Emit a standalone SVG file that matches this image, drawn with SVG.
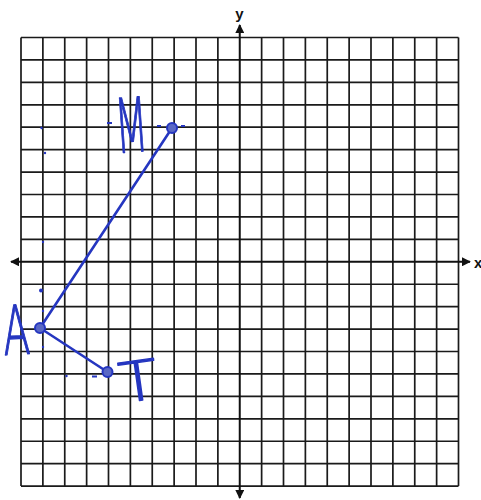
<svg xmlns="http://www.w3.org/2000/svg" width="481" height="500" viewBox="0 0 481 500">
<style>
.grid{fill:none;stroke:#1a1a1a;stroke-width:1.7}
.axis{fill:none;stroke:#111;stroke-width:2}
.lbl{font-family:"Liberation Sans","DejaVu Sans",sans-serif;font-weight:bold;font-size:15px;fill:#111}
.seg{fill:none;stroke:#2536c0;stroke-width:2.6;stroke-linecap:round}
.pt{fill:#5a68c4;stroke:#2536c0;stroke-width:2}
.hand{font-family:"DejaVu Sans","Open Sans",sans-serif;font-weight:200;fill:#2536c0;stroke:#2536c0;stroke-width:1.4;stroke-linejoin:round}
.mark{fill:#2536c0}
</style>
<defs>
<marker id="ah" viewBox="0 0 10 10" refX="9" refY="5" markerWidth="4.5" markerHeight="4.5" orient="auto-start-reverse" markerUnits="strokeWidth">
<path d="M0 0L10 5L0 10z" fill="#111"/>
</marker>
</defs>
<rect width="481" height="500" fill="#fff"/>
<g id="grid">
<path class="grid" d="M21 37.5V486.1M42.88 37.5V486.1M64.75 37.5V486.1M86.63 37.5V486.1M108.5 37.5V486.1M130.38 37.5V486.1M152.25 37.5V486.1M174.13 37.5V486.1M196 37.5V486.1M217.88 37.5V486.1M261.63 37.5V486.1M283.5 37.5V486.1M305.38 37.5V486.1M327.25 37.5V486.1M349.13 37.5V486.1M371 37.5V486.1M392.88 37.5V486.1M414.75 37.5V486.1M436.63 37.5V486.1M458.5 37.5V486.1M21 37.5H458.5M21 59.93H458.5M21 82.36H458.5M21 104.79H458.5M21 127.22H458.5M21 149.65H458.5M21 172.08H458.5M21 194.51H458.5M21 216.94H458.5M21 239.37H458.5M21 284.23H458.5M21 306.66H458.5M21 329.09H458.5M21 351.52H458.5M21 373.95H458.5M21 396.38H458.5M21 418.81H458.5M21 441.24H458.5M21 463.67H458.5M21 486.1H458.5"/>
</g>
<g id="axes">
<line class="axis" x1="11" y1="261.8" x2="470" y2="261.8" marker-start="url(#ah)" marker-end="url(#ah)"/>
<line class="axis" x1="239.75" y1="25" x2="239.75" y2="498" marker-start="url(#ah)" marker-end="url(#ah)"/>
<text class="lbl" x="239.5" y="19" text-anchor="middle">y</text>
<text class="lbl" x="474" y="268">x</text>
</g>
<g id="connectors">
<line class="seg" x1="40" y1="328" x2="172" y2="128"/>
<line class="seg" x1="40" y1="328" x2="107.5" y2="372"/>
</g>
<g id="marks">
<rect class="mark" x="107" y="122" width="5" height="2"/>
<rect class="mark" x="157" y="125" width="4" height="2"/>
<rect class="mark" x="181" y="125" width="4" height="2"/>
<circle class="mark" cx="41.5" cy="128" r="1.2"/>
<circle class="mark" cx="45" cy="153" r="1.2"/>
<circle class="mark" cx="43" cy="242" r="1.2"/>
<circle class="mark" cx="41" cy="290.5" r="2"/>
<circle class="mark" cx="43" cy="311" r="1.2"/>
<circle class="mark" cx="43" cy="347" r="1.2"/>
<circle class="mark" cx="66.5" cy="376" r="1.2"/>
<rect class="mark" x="92" y="375.5" width="5" height="2"/>
</g>
<g id="M">
<circle class="pt" cx="172" cy="128" r="5"/>
<text class="hand" font-size="75" transform="translate(117,153) rotate(-4) scale(0.5,1)">M</text>
</g>
<g id="A">
<circle class="pt" cx="40" cy="328" r="5"/>
<text class="hand" font-size="68" transform="translate(4,355) rotate(-3) scale(0.58,1)">A</text>
</g>
<g id="T">
<circle class="pt" cx="107.5" cy="372" r="5"/>
<text class="hand" font-size="55" transform="translate(122,403) rotate(-8) scale(1.15,1)">T</text>
</g>
</svg>
